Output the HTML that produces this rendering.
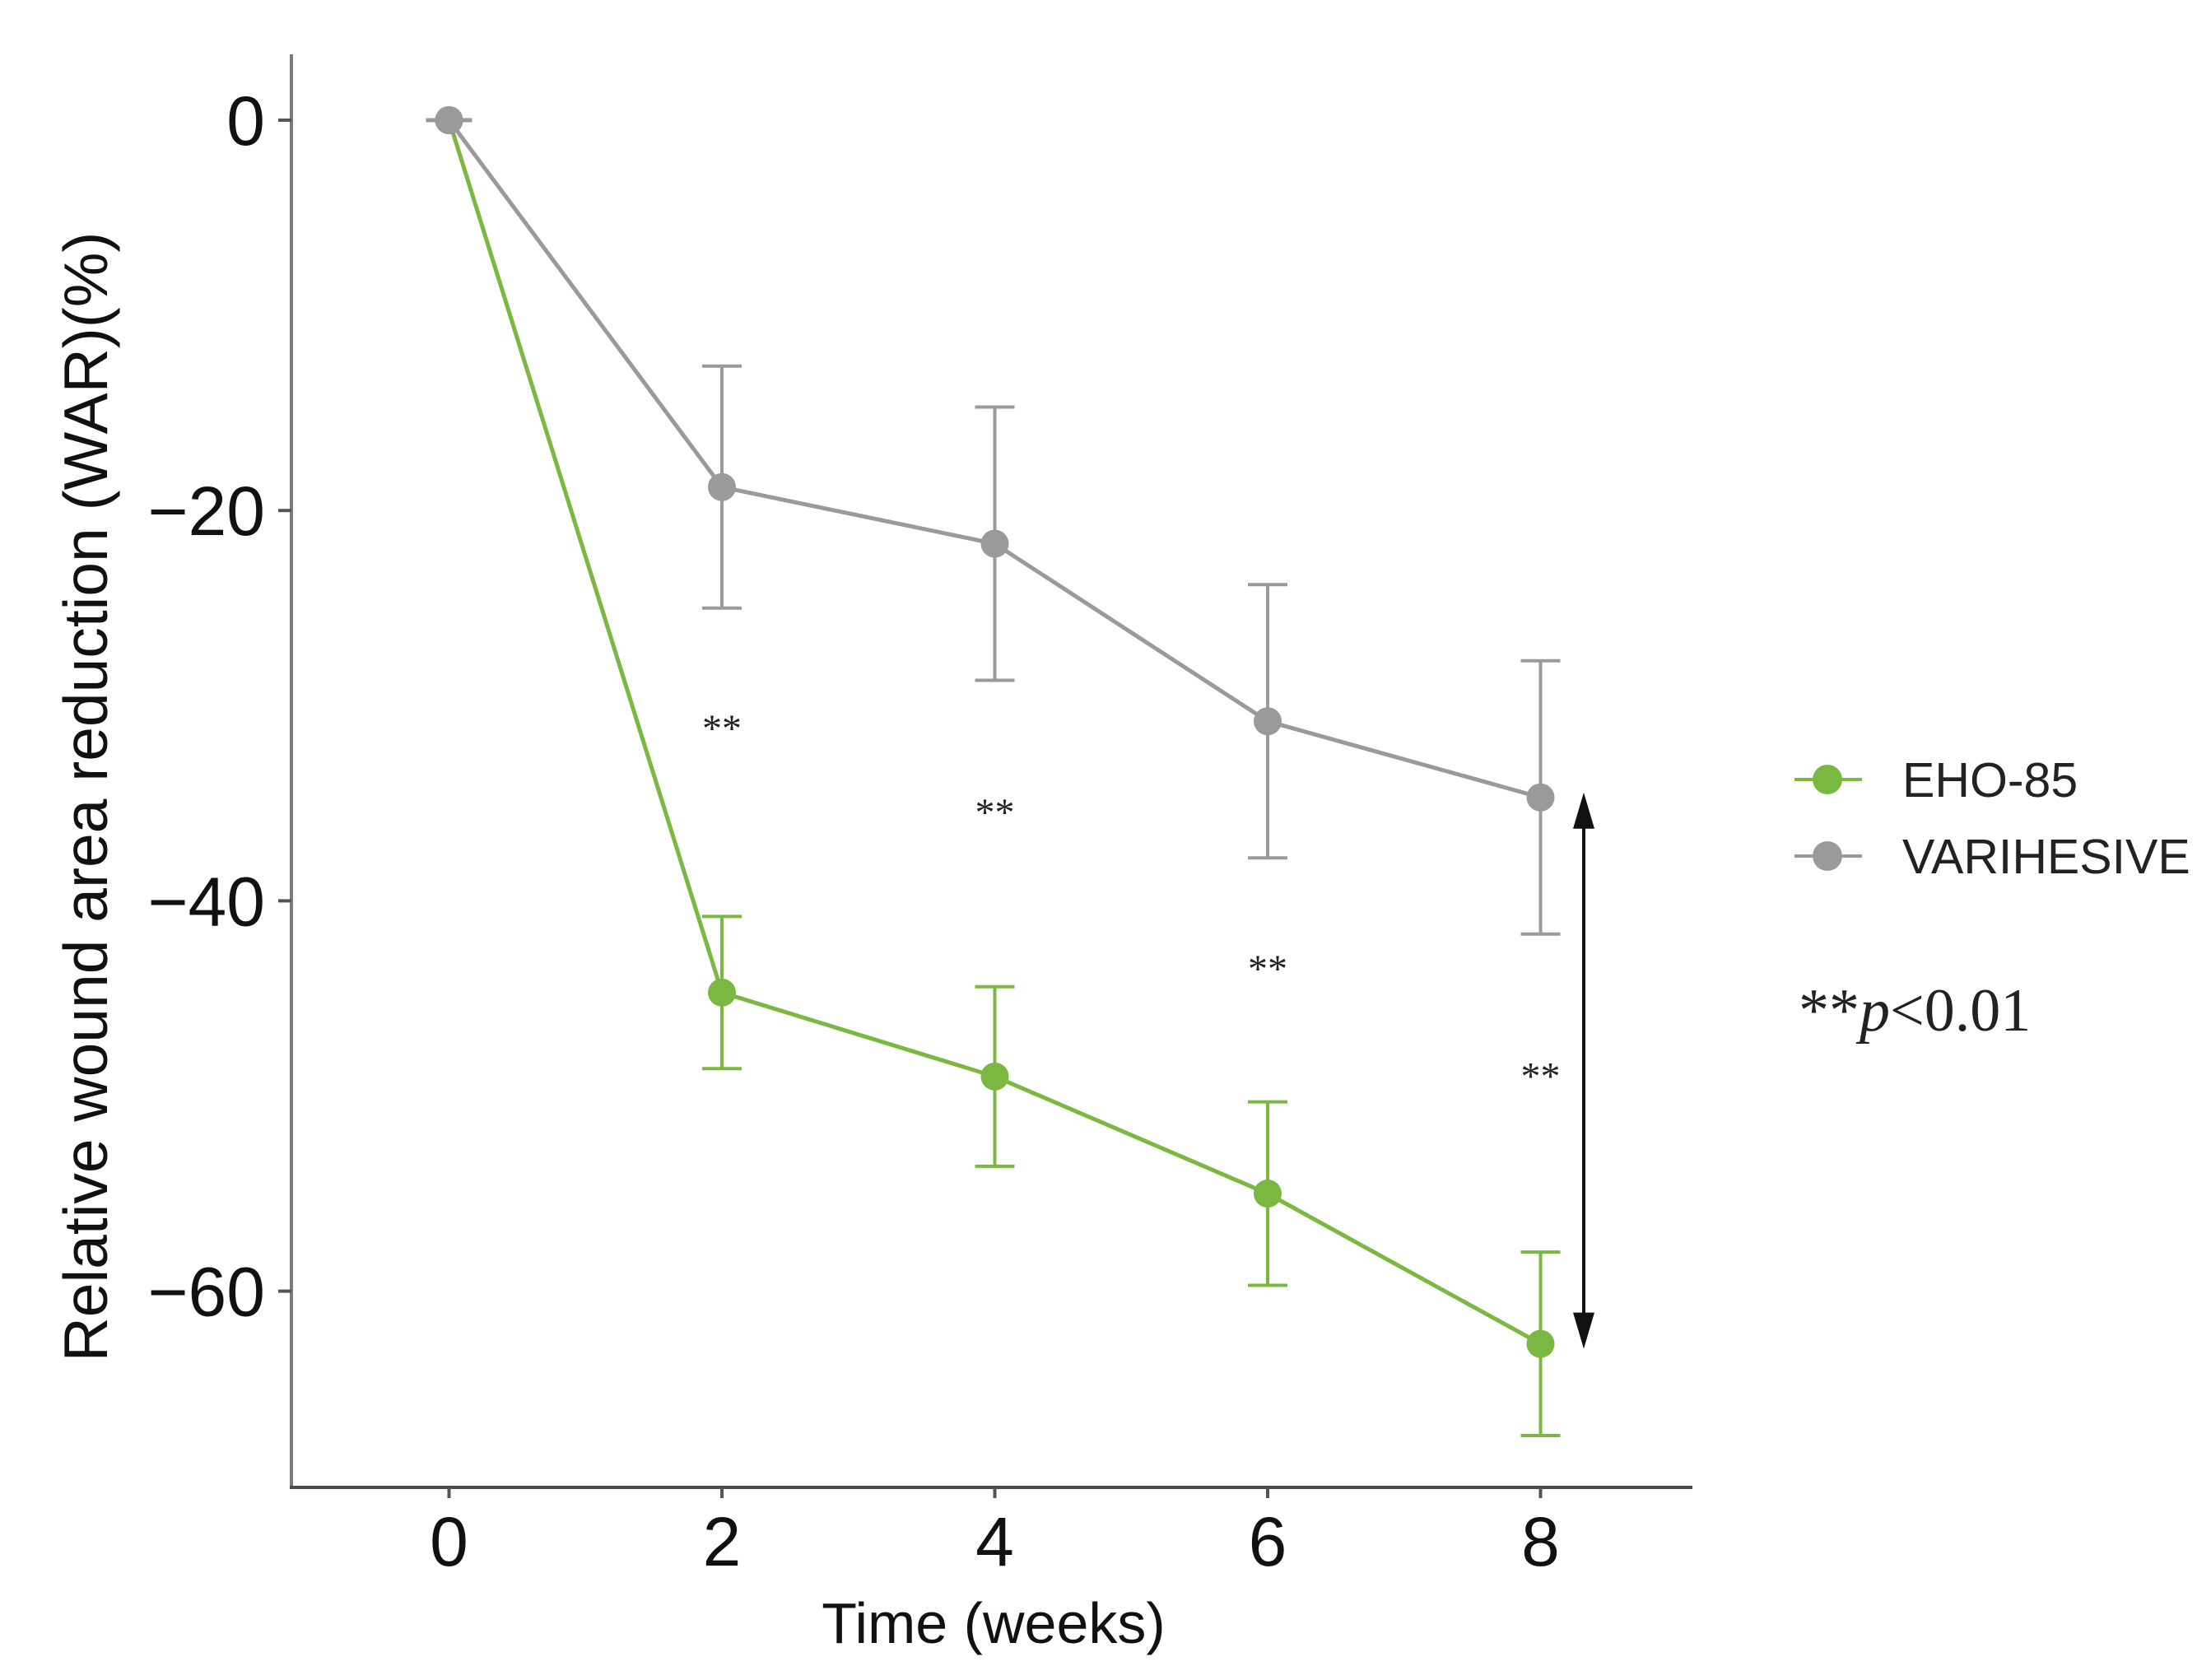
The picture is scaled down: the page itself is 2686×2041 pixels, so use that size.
<!DOCTYPE html>
<html><head><meta charset="utf-8"><style>
html,body{margin:0;padding:0;background:#fff;}
svg{display:block;}
</style></head><body>
<svg id="chart" width="2686" height="2041" viewBox="0 0 2686 2041" xmlns="http://www.w3.org/2000/svg">
<rect x="0" y="0" width="2686" height="2041" fill="#ffffff"/>
<g id="axes"></g>
<g id="marks"></g>
<g id="legend"></g>
</svg>
<script>
const weeks = [0, 2, 4, 6, 8];
const ehoMean = [0, -44.7, -49, -55, -62.7];
const ehoErr = [0, 3.9, 4.6, 4.7, 4.7];
const variMean = [0, -18.8, -21.7, -30.8, -34.7];
const variErr = [0, 6.2, 7, 7, 7];
const xTicks = [0, 2, 4, 6, 8];
const yTicks = [0, -20, -40, -60];
const yTickLabels = ["0", "\u221220", "\u221240", "\u221260"];
const sigWeeks = [2, 4, 6, 8];
const sigValues = [-31.6, -35.9, -43.9, -49.4];

const NS = "http://www.w3.org/2000/svg";
function X(v){ return 545.5 + v * 165.75; }
function Y(v){ return 146 - v * 23.71; }
function mk(tag, attrs, parent){
  const e = document.createElementNS(NS, tag);
  for (const k in attrs) e.setAttribute(k, attrs[k]);
  parent.appendChild(e);
  return e;
}
const axes = document.getElementById('axes');
const marks = document.getElementById('marks');
const legend = document.getElementById('legend');
const sans = '"Liberation Sans", "DejaVu Sans", sans-serif';

let yl = mk('line', {x1:354, y1:66, x2:354, y2:1807, stroke:'#7a7a7a', 'stroke-width':4}, axes);


let xl = mk('line', {x1:352, y1:1807, x2:2056, y2:1807, stroke:'#4a4a4a', 'stroke-width':4}, axes);



yTicks.forEach((t, i) => {
  const tk = mk('line', {x1:338, y1:Y(t), x2:354, y2:Y(t), stroke:'#555', 'stroke-width':4}, axes);
  
  
  const lb = mk('text', {x:322, y:Y(t)+30, 'text-anchor':'end', 'font-size':84, 'font-family':sans, fill:'#111'}, axes);
  lb.textContent = yTickLabels[i];
  
  
});
xTicks.forEach(t => {
  const tk = mk('line', {x1:X(t), y1:1807, x2:X(t), y2:1820, stroke:'#555', 'stroke-width':4}, axes);
  
  
  const lb = mk('text', {x:X(t), y:1902, 'text-anchor':'middle', 'font-size':84, 'font-family':sans, fill:'#111'}, axes);
  lb.textContent = String(t);
  
  
});
const xt = mk('text', {x:1207, y:1996, 'text-anchor':'middle', 'font-size':70, 'font-family':sans, fill:'#111'}, axes);
xt.textContent = 'Time (weeks)';


const yt = mk('text', {x:0, y:0, 'text-anchor':'middle', 'font-size':75, 'font-family':sans, fill:'#111', transform:'translate(130,968) rotate(-90)'}, axes);
yt.textContent = 'Relative wound area reduction (WAR)(%)';



function series(means, errs, color, name){
  const g = mk('g', {}, marks);
  
  
  weeks.forEach((w, i) => {
    if (errs[i] <= 0) return;
    const top = Y(means[i] + errs[i]), bot = Y(means[i] - errs[i]), x = X(w);
    const e = mk('path', {d:`M${x},${top}V${bot}M${x-24},${top}H${x+24}M${x-24},${bot}H${x+24}`, stroke:color, 'stroke-width':4, fill:'none'}, g);
    
    
  });
  const pts = weeks.map((w, i) => X(w) + ',' + Y(means[i])).join(' ');
  const l = mk('polyline', {points:pts, stroke:color, 'stroke-width':5, fill:'none'}, g);
  
  
  weeks.forEach((w, i) => {
    const c = mk('circle', {cx:X(w), cy:Y(means[i]), r:17, fill:color}, g);
    
    
  });
}
series(variMean, variErr, '#9a9a9a', 'varihesive');
series(ehoMean, ehoErr, '#7ab842', 'eho-85');
const z = mk('path', {d:`M${X(0)-28},${Y(0)}H${X(0)+28}`, stroke:'#9a9a9a', 'stroke-width':5}, marks);


const z2 = mk('circle', {cx:X(0), cy:Y(0), r:17, fill:'#9a9a9a'}, marks);



sigWeeks.forEach((w, i) => {
  const s = mk('text', {x:X(w), y:Y(sigValues[i])+6, 'text-anchor':'middle', 'font-size':48, 'font-family':'"Liberation Serif", serif', fill:'#222'}, marks);
  s.textContent = '**';
  
  
});

const ax = 1924, ay1 = Y(variMean[4]) , ay2 = Y(ehoMean[4]);
const ar = mk('line', {x1:ax, y1:ay1+30, x2:ax, y2:ay2-30, stroke:'#111', 'stroke-width':4}, marks);


const h1 = mk('polygon', {points:`${ax},${ay1-6} ${ax-13},${ay1+38} ${ax+13},${ay1+38}`, fill:'#111'}, marks);


const h2 = mk('polygon', {points:`${ax},${ay2+6} ${ax-13},${ay2-38} ${ax+13},${ay2-38}`, fill:'#111'}, marks);



const legItems = [['EHO-85', '#7ab842', 947], ['VARIHESIVE', '#9a9a9a', 1040]];
legItems.forEach(it => {
  const g = mk('g', {}, legend);
  
  
  mk('line', {x1:2180, y1:it[2], x2:2262, y2:it[2], stroke:it[1], 'stroke-width':4}, g);
  mk('circle', {cx:2220, cy:it[2], r:18, fill:it[1]}, g);
  const t = mk('text', {x:2311, y:it[2]+21, 'font-size':59, 'font-family':sans, fill:'#222'}, g);
  t.textContent = it[0];
});
const pt = mk('text', {x:2185, y:1252, 'font-size':74, 'font-family':'"Liberation Serif", serif', fill:'#222'}, legend);
pt.innerHTML = '**<tspan font-style="italic">p</tspan>&lt;0.01';


</script>
</body></html>
